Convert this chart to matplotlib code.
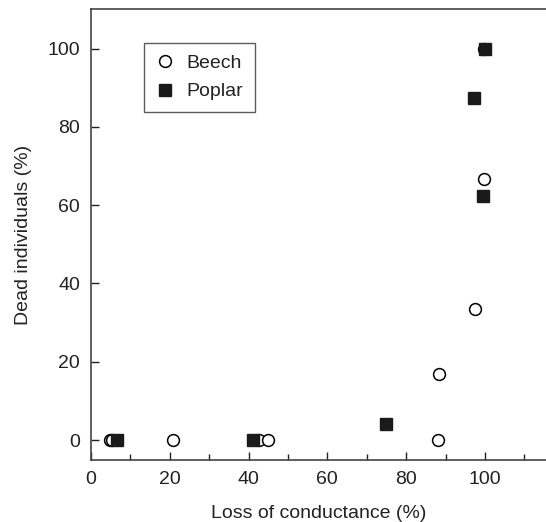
import matplotlib
matplotlib.use("Agg")
from matplotlib import pyplot as plt
from matplotlib.ticker import MultipleLocator

plt.rcParams['font.family'] = ['Liberation Sans', 'DejaVu Sans']

# Beech (open circles)
beech_x = [4.8, 5.3, 20.9, 42.7, 45.0, 88.0, 88.3, 97.5, 99.7, 99.8]
beech_y = [0, 0, 0, 0, 0, 0, 16.8, 33.5, 66.7, 100]

# Poplar (filled squares)
poplar_x = [6.5, 41.0, 75.0, 97.2, 99.4, 100.0]
poplar_y = [0, 0, 4.1, 87.4, 62.3, 100]

ink = '#222222'

fig = plt.figure(figsize=(5.46, 5.22), dpi=100)
ax = fig.add_axes([91/546, 62/522, 455/546, 451/522])

ax.plot(beech_x, beech_y, 'o', ms=8.5, mfc='white', mec='black', mew=1.1,
        label='Beech', zorder=3)
ax.plot(poplar_x, poplar_y, 's', ms=8.5, mfc='#1a1a1a', mec='#1a1a1a',
        label='Poplar', zorder=4)

ax.set_xlim(0, 115.5)
ax.set_ylim(-5.1, 110.1)
ax.xaxis.set_major_locator(MultipleLocator(20))
ax.xaxis.set_minor_locator(MultipleLocator(10))
ax.yaxis.set_major_locator(MultipleLocator(20))
ax.tick_params(axis='both', which='major', direction='in', length=6,
               width=1, colors=ink, labelsize=14, pad=8)
ax.tick_params(axis='x', which='minor', direction='in', length=4, width=1,
               colors=ink)
ax.tick_params(top=False, right=False)
for s in ['left', 'bottom', 'top']:
    ax.spines[s].set_color('#444444')
    ax.spines[s].set_linewidth(1.2)
ax.spines['right'].set_visible(False)

ax.set_xlabel('Loss of conductance (%)', fontsize=14, color=ink, labelpad=12)
ax.set_ylabel('Dead individuals (%)', fontsize=14, color=ink, labelpad=11)

leg = ax.legend(loc='upper left', bbox_to_anchor=(0.1165, 0.925), fontsize=14,
                frameon=True, fancybox=False, edgecolor='#333333',
                handletextpad=0.6, borderpad=0.6, handlelength=1.0,
                labelspacing=0.55, borderaxespad=0)
leg.get_frame().set_linewidth(1.0)
for t in leg.get_texts():
    t.set_color(ink)

fig.savefig('out.png', dpi=100)
